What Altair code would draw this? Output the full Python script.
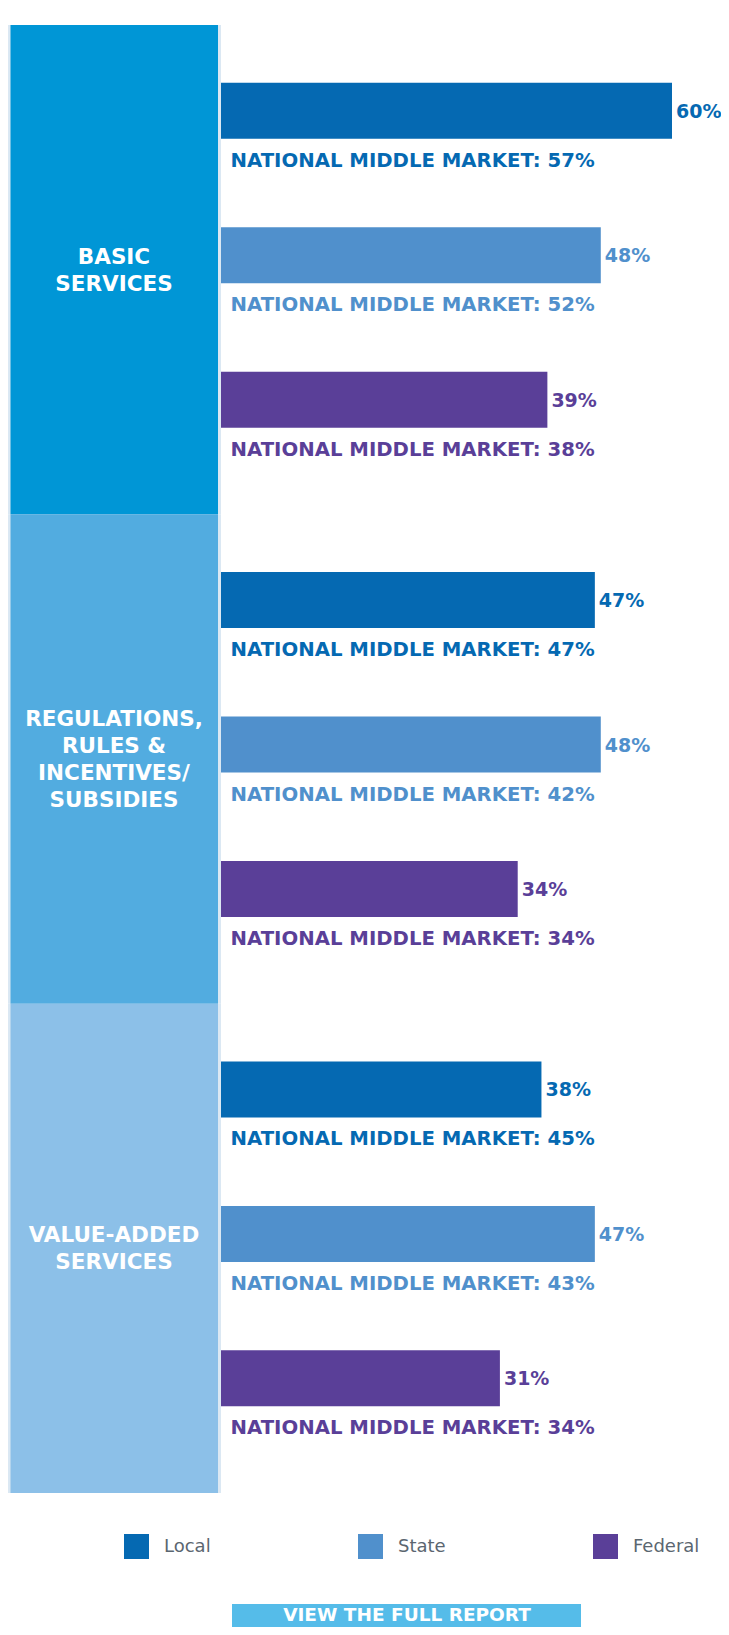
import altair as alt
import pandas as pd

groups = ["BASIC SERVICES", "REGULATIONS, RULES & INCENTIVES/SUBSIDIES", "VALUE-ADDED SERVICES"]
group_labels = ["BASIC\nSERVICES", "REGULATIONS,\nRULES &\nINCENTIVES/\nSUBSIDIES", "VALUE-ADDED\nSERVICES"]
series = ["Local", "State", "Federal"]
local_values = [60, 47, 38]
state_values = [48, 48, 47]
federal_values = [39, 34, 31]
local_national = [57, 47, 45]
state_national = [52, 42, 43]
federal_national = [38, 34, 34]
button_text = ["VIEW THE FULL REPORT"]

series_colors = ["#0569b2", "#5090cc", "#5a3f98"]
panel_colors = ["#0096d6", "#52ace0", "#8cc0e8"]

rows = []
for s, vals, nats in zip(series, [local_values, state_values, federal_values],
                         [local_national, state_national, federal_national]):
    for g, v, n in zip(groups, vals, nats):
        rows.append({"group": g, "series": s, "value": v, "national": n})
df = pd.DataFrame(rows)
panel_df = pd.DataFrame({"group": groups, "label": group_labels})
button_df = pd.DataFrame({"text": button_text})

W, H = 713, 1619
FONT = "DejaVu Sans"
LINE_H = 27

y_enc = alt.Y("group:N", scale=alt.Scale(domain=groups, range=[17, 1485], paddingInner=0, paddingOuter=0), axis=None)
yoff = alt.YOffset("series:N", scale=alt.Scale(domain=series, paddingInner=0.6125, paddingOuter=0.5, align=0.4))
xq = alt.X("value:Q", scale=alt.Scale(domain=[-16, 60], range=[213, 664], nice=False, zero=False), axis=None)
series_scale = alt.Scale(domain=series, range=series_colors)

panel_edge = alt.Chart(panel_df).mark_rect(color="#dbe8f3").encode(
    y=y_enc, x=alt.value(0), x2=alt.value(213)
)
panel = alt.Chart(panel_df).mark_rect().encode(
    y=y_enc, x=alt.value(2.5), x2=alt.value(210),
    color=alt.Color("group:N", scale=alt.Scale(domain=groups, range=panel_colors), legend=None),
)

# centre multi-line labels: one layer per line count
cat_layers = []
for n in sorted({lab.count("\n") + 1 for lab in group_labels}):
    cat_layers.append(
        alt.Chart(panel_df).transform_calculate(
            nlines="split(datum.label, '\\n').length"
        ).transform_filter(alt.datum.nlines == n).mark_text(
            font=FONT, fontWeight="bold", fontSize=21.5, color="white", lineBreak="\n",
            lineHeight=LINE_H, align="center", baseline="middle", dy=-(n - 1) * LINE_H / 2 + 1.5
        ).encode(x=alt.value(106), y=y_enc, text="label:N")
    )

bars = alt.Chart(df).mark_bar().encode(
    x=xq, x2=alt.datum(-16), y=y_enc, yOffset=yoff,
    color=alt.Color("series:N", scale=series_scale, legend=alt.Legend(
        title=None, orient="none", legendX=116, legendY=1526, direction="horizontal",
        symbolType="square", symbolSize=625, symbolStrokeWidth=0, symbolOpacity=1,
        labelFont=FONT, labelFontSize=18, labelColor="#5b6670", labelOffset=15,
        columnPadding=147, padding=0)),
)
value_text = alt.Chart(df).transform_calculate(
    value_label="datum.value + '%'"
).mark_text(font=FONT, fontWeight="bold", fontSize=19, align="left", baseline="middle", dx=4, dy=1).encode(
    x=xq, y=y_enc, yOffset=yoff, text="value_label:N",
    color=alt.Color("series:N", scale=series_scale, legend=None),
)
nat_text = alt.Chart(df).transform_calculate(
    nat_label="'NATIONAL MIDDLE MARKET: ' + datum.national + '%'"
).mark_text(font=FONT, fontWeight="bold", fontSize=19.7, align="left", baseline="middle", dy=50).encode(
    x=alt.value(222.5), y=y_enc, yOffset=yoff, text="nat_label:N",
    color=alt.Color("series:N", scale=series_scale, legend=None),
)
button_rect = alt.Chart(button_df).mark_rect(color="#55bce9").encode(
    x=alt.value(224), x2=alt.value(573), y=alt.value(1596), y2=alt.value(1700)
)
button_label = alt.Chart(button_df).mark_text(
    font=FONT, fontWeight="bold", fontSize=18.5, color="white", align="center", baseline="alphabetic"
).encode(x=alt.value(399), y=alt.value(1613), text="text:N")

chart = alt.layer(
    panel_edge, panel, *cat_layers, bars, value_text, nat_text, button_rect, button_label
).resolve_scale(color="independent").properties(
    width=W, height=H, padding=0, autosize="none", background="white"
).configure_view(strokeWidth=0)

chart.save("out.html", embed_options={"renderer": "svg", "actions": False})
